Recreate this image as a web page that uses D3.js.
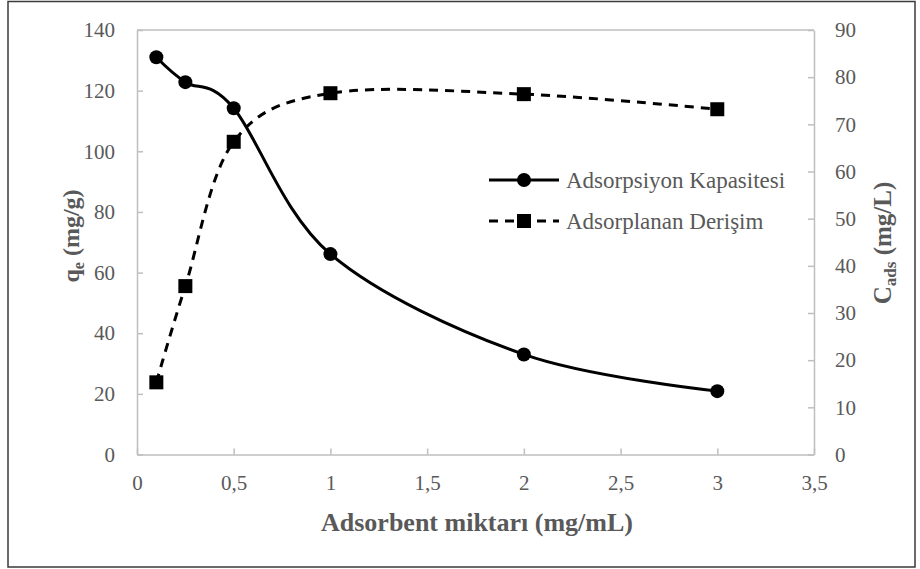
<!DOCTYPE html>
<html>
<head>
<meta charset="utf-8">
<script src="https://cdn.jsdelivr.net/npm/d3@7"></script>
<style>
  html, body { margin: 0; padding: 0; background: #fff; }
  svg { display: block; }
  svg text { font-family: "Liberation Serif", "Times New Roman", Tinos, "DejaVu Serif", serif; }
</style>
</head>
<body>
<svg id="chart" width="920" height="569"></svg>
<script>
// Adsorbent amount (mg/mL)
const doses = [0.1, 0.25, 0.5, 1, 2, 3];
// Adsorption capacity q_e (mg/g), left axis
const capacity = [131.0, 122.8, 114.2, 66.1, 33.0, 20.9];
// Adsorbed concentration C_ads (mg/L), right axis
const adsorbed = [15.3, 35.7, 66.3, 76.6, 76.4, 73.2];

const xTicks = [0, 0.5, 1, 1.5, 2, 2.5, 3, 3.5];
const leftTicks = [0, 20, 40, 60, 80, 100, 120, 140];
const rightTicks = [0, 10, 20, 30, 40, 50, 60, 70, 80, 90];
const seriesNames = ["Adsorpsiyon Kapasitesi", "Adsorplanan Derişim"];

const FONT = "'Liberation Serif', 'Times New Roman', Tinos, 'DejaVu Serif', serif";
const svg = d3.select("#chart");
const plot = { left: 137, right: 814, top: 30, bottom: 454.5 };
const axisGrey = "#bfbfbf", textGrey = "#595959";

// outer chart frame
svg.append("rect")
  .attr("x", 8).attr("y", 1.5).attr("width", 907).attr("height", 565.5)
  .attr("fill", "#fff").attr("stroke", "#3a3a3a").attr("stroke-width", 1.5);

const x = d3.scaleLinear().domain([0, 3.5]).range([plot.left, plot.right]);
const yL = d3.scaleLinear().domain([0, 140]).range([plot.bottom, plot.top]);
const yR = d3.scaleLinear().domain([0, 90]).range([plot.bottom, plot.top]);

const fmt = d => String(d).replace(".", ",");

function styleAxis(g) {
  g.attr("font-family", FONT).attr("font-size", 21);
  g.select(".domain").attr("stroke", axisGrey).attr("stroke-width", 1.5);
  g.selectAll(".tick line").attr("stroke", axisGrey).attr("stroke-width", 1.5);
  g.selectAll(".tick text").attr("fill", textGrey);
}

// top border of the plot area
svg.append("line")
  .attr("x1", plot.left).attr("x2", plot.right)
  .attr("y1", plot.top).attr("y2", plot.top)
  .attr("stroke", axisGrey).attr("stroke-width", 1.5);

svg.append("g")
  .attr("transform", `translate(0,${plot.bottom})`)
  .call(d3.axisBottom(x).tickValues(xTicks).tickFormat(fmt).tickSize(-6).tickSizeOuter(0).tickPadding(21))
  .call(styleAxis);

svg.append("g")
  .attr("transform", `translate(${plot.left},0)`)
  .call(d3.axisLeft(yL).tickValues(leftTicks).tickSize(-6).tickSizeOuter(0).tickPadding(22))
  .call(styleAxis);

svg.append("g")
  .attr("transform", `translate(${plot.right},0)`)
  .call(d3.axisRight(yR).tickValues(rightTicks).tickSize(-6).tickSizeOuter(0).tickPadding(21))
  .call(styleAxis);

// axis titles
svg.append("text")
  .attr("x", 477).attr("y", 531)
  .attr("text-anchor", "middle").attr("font-family", FONT)
  .attr("fill", textGrey).attr("font-weight", "bold").attr("font-size", 26)
  .text("Adsorbent miktarı (mg/mL)");

const leftTitle = svg.append("text")
  .attr("transform", "translate(79,236) rotate(-90)")
  .attr("text-anchor", "middle").attr("font-family", FONT)
  .attr("fill", textGrey).attr("font-weight", "bold").attr("font-size", 24);
leftTitle.append("tspan").text("q");
leftTitle.append("tspan").attr("font-size", 16).attr("dy", 5).text("e");
leftTitle.append("tspan").attr("dy", -5).text(" (mg/g)");

const rightTitle = svg.append("text")
  .attr("transform", "translate(891,243) rotate(-90)")
  .attr("text-anchor", "middle").attr("font-family", FONT)
  .attr("fill", textGrey).attr("font-weight", "bold").attr("font-size", 25);
rightTitle.append("tspan").text("C");
rightTitle.append("tspan").attr("font-size", 17).attr("dy", 5).text("ads");
rightTitle.append("tspan").attr("dy", -5).text(" (mg/L)");

// series
const capPts = doses.map((d, i) => [x(d), yL(capacity[i])]);
const adsPts = doses.map((d, i) => [x(d), yR(adsorbed[i])]);
const smooth = d3.line().curve(d3.curveCardinal.tension(0));

svg.append("path").attr("d", smooth(adsPts))
  .attr("fill", "none").attr("stroke", "#000").attr("stroke-width", 3)
  .attr("stroke-dasharray", "9,7");
svg.append("path").attr("d", smooth(capPts))
  .attr("fill", "none").attr("stroke", "#000").attr("stroke-width", 3);

const sq = 14;
svg.append("g").selectAll("rect").data(adsPts).join("rect")
  .attr("x", p => p[0] - sq / 2).attr("y", p => p[1] - sq / 2)
  .attr("width", sq).attr("height", sq).attr("fill", "#000");
svg.append("g").selectAll("circle").data(capPts).join("circle")
  .attr("cx", p => p[0]).attr("cy", p => p[1]).attr("r", 7).attr("fill", "#000");

// legend
const legend = svg.append("g");
const legendRows = [{ y: 180, dash: null, marker: "circle" }, { y: 221, dash: "9,7", marker: "square" }];
legendRows.forEach((row, i) => {
  const g = legend.append("g").attr("transform", `translate(0,${row.y})`);
  g.append("line").attr("x1", 489).attr("x2", 559).attr("y1", 0).attr("y2", 0)
    .attr("stroke", "#000").attr("stroke-width", 3)
    .attr("stroke-dasharray", row.dash);
  if (row.marker === "circle") {
    g.append("circle").attr("cx", 524).attr("cy", 0).attr("r", 7).attr("fill", "#000");
  } else {
    g.append("rect").attr("x", 524 - sq / 2).attr("y", -sq / 2).attr("width", sq).attr("height", sq).attr("fill", "#000");
  }
  g.append("text").attr("x", 566).attr("y", 0).attr("dy", "0.35em").attr("font-family", FONT)
    .attr("fill", textGrey).attr("font-size", 23).text(seriesNames[i]);
});
</script>
</body>
</html>
